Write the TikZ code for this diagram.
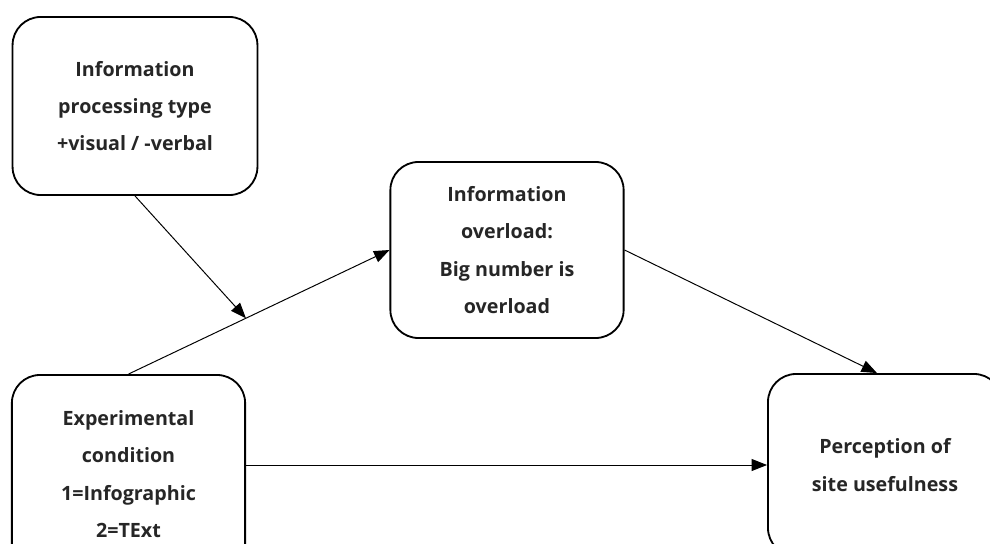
\documentclass[tikz,border=0pt]{standalone}
\usepackage{fontspec}
\setmainfont{Open Sans}
\usetikzlibrary{arrows.meta}

\begin{document}
\begin{tikzpicture}[x=0.025cm,y=-0.025cm,
  box/.style={draw, line width=1.3pt, rounded corners=20pt, align=center,
    font=\bfseries\fontsize{14}{26.5}\selectfont, text=black!85},
  link/.style={-{Triangle[length=11pt,width=8.5pt]}, line width=0.7pt}]
  \useasboundingbox (0,0) rectangle (990,544);
  \node[box, minimum width=6.12cm, minimum height=4.45cm] (proc) at (135,106)
    {Information\\processing type\\+visual / -verbal};
  \node[box, minimum width=5.83cm, minimum height=4.4cm] (over) at (507,250)
    {Information\\overload:\\Big number is\\overload};
  \node[box, minimum width=5.83cm, minimum height=4.95cm] (cond) at (128.5,474)
    {Experimental\\condition\\1=Infographic\\2=TExt};
  \node[box, minimum width=5.85cm, minimum height=4.55cm] (perc) at (885,465)
    {Perception of\\site usefulness};
  \path (cond.north) -- (over.west) coordinate[pos=0.45] (mod);
  \path[link]
  (cond.north) edge (over.west)
  (proc.south) edge (mod)
  (over.east) edge ([xshift=-0.2cm]perc.north)
  (cond.east |- perc.west) edge (perc.west)
;
\end{tikzpicture}
\end{document}
